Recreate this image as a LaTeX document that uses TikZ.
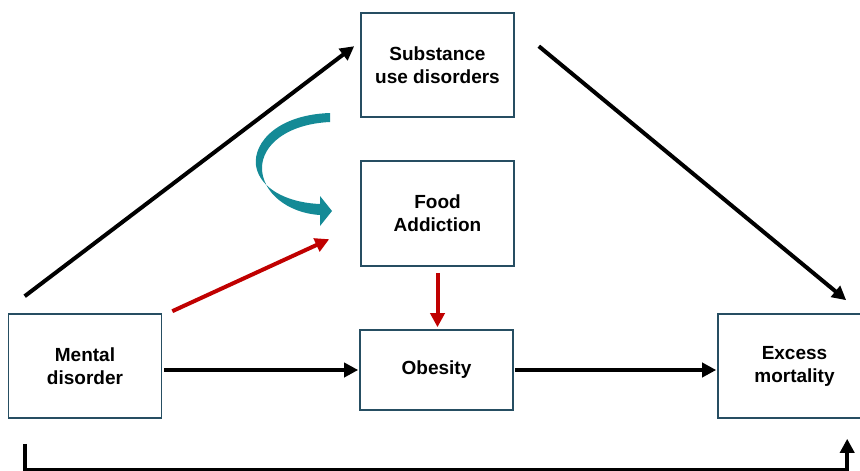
\documentclass[tikz,border=0pt]{standalone}
\usepackage{fontspec}
\setmainfont{Liberation Sans}
\usetikzlibrary{arrows.meta}
\definecolor{boxline}{RGB}{38,78,98}
\definecolor{darkred}{RGB}{192,0,0}
\definecolor{tealarrow}{RGB}{20,138,150}

\begin{document}
\begin{tikzpicture}[
    x=1pt, y=-1pt,
    box/.style   = {draw=boxline, line width=1.6pt, minimum width=153pt,
                    minimum height=104pt, align=center, inner sep=0pt,
                    font=\fontsize{19}{23}\selectfont\bfseries},
    arrow/.style = {-{Triangle[length=14pt,width=14pt]}, line width=4pt},
    redarrow/.style = {arrow, color=darkred}
  ]
  \useasboundingbox (0,0) rectangle (860,471);

  \node[box] (sud)    at (437.5,65)  {Substance\\use disorders};
  \node[box, minimum height=105pt] (food) at (437.5,213.5) {Food\\Addiction};
  \node[box, minimum height=80pt]  (obes) at (436.5,370)   {Obesity};
  \node[box] (mental) at (85,366)    {Mental\\disorder};
  \node[box] (exc)    at (794.5,366) {Excess\\mortality};

  \draw[arrow] ([shift={(17,-17)}]mental.north west)
               -- ([shift={(-6,34)}]sud.north west);
  \draw[arrow] ([shift={(24,34)}]sud.north east)
               -- ([shift={(129,-13)}]exc.north west);
  \draw[redarrow] ([shift={(10,-2)}]mental.north east)
               -- ([shift={(-31,79)}]food.north west);
  \draw[redarrow, shorten <=6pt, shorten >=2pt] (food.south) -- (food.south |- obes.north);
  \draw[arrow, shorten <=2pt, shorten >=1pt] (mental.east |- obes.west) -- (obes.west);
  \draw[arrow, shorten <=1pt, shorten >=1pt] (obes.east) -- (obes.east -| exc.west);
  \draw[arrow] ([shift={(17,25)}]mental.south west) -- ++(0,26)
               -| ([shift={(130,20)}]exc.south west);

  % curved arrow
  \fill[tealarrow] (330,113) .. controls (272,115) and (250,148) .. (257,170)
        .. controls (264,192) and (292,203) .. (320,204)
        -- (320,196) -- (332,211) -- (320,226) -- (320,215)
        .. controls (287,213) and (262,192) .. (262,168)
        .. controls (262,145) and (287,124) .. (330,122) -- cycle;
\end{tikzpicture}
\end{document}
